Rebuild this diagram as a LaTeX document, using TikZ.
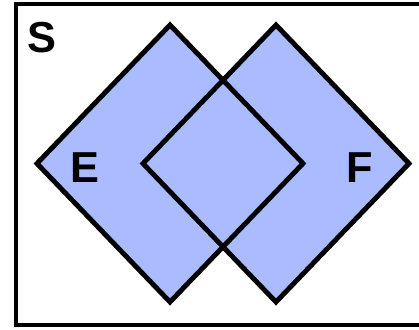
\documentclass[tikz,border=0pt]{standalone}
\usepackage{fontspec}
\setmainfont{Liberation Sans}
\usepackage{xcolor}
\definecolor{vennBlue}{RGB}{170,187,255}
\tikzset{
  setlabel/.style={font=\fontsize{37}{40}\selectfont\bfseries,inner sep=0pt},
  setedge/.style={line width=4.2pt,line join=miter}
}
\begin{document}
\begin{tikzpicture}[x=0.03cm,y=-0.03cm]
\useasboundingbox (0,0) rectangle (419,329);
\clip (0,0) rectangle (419,329);
\draw[setedge] (16,4) rectangle (440,325);
% the two events
\fill[vennBlue] (170,25) -- (303,163.5) -- (170,302) -- (37,163.5) -- cycle;
\fill[vennBlue] (276,25) -- (409,163.5) -- (276,302) -- (143,163.5) -- cycle;
\draw[setedge] (170,25) -- (303,163.5) -- (170,302) -- (37,163.5) -- cycle;
\draw[setedge] (276,25) -- (409,163.5) -- (276,302) -- (143,163.5) -- cycle;
\node[setlabel] (S) at (42,38) {S};
\node[setlabel] (E) at (85,168) {E};
\node[setlabel] (F) at (360,168) {F};
\end{tikzpicture}
\end{document}
